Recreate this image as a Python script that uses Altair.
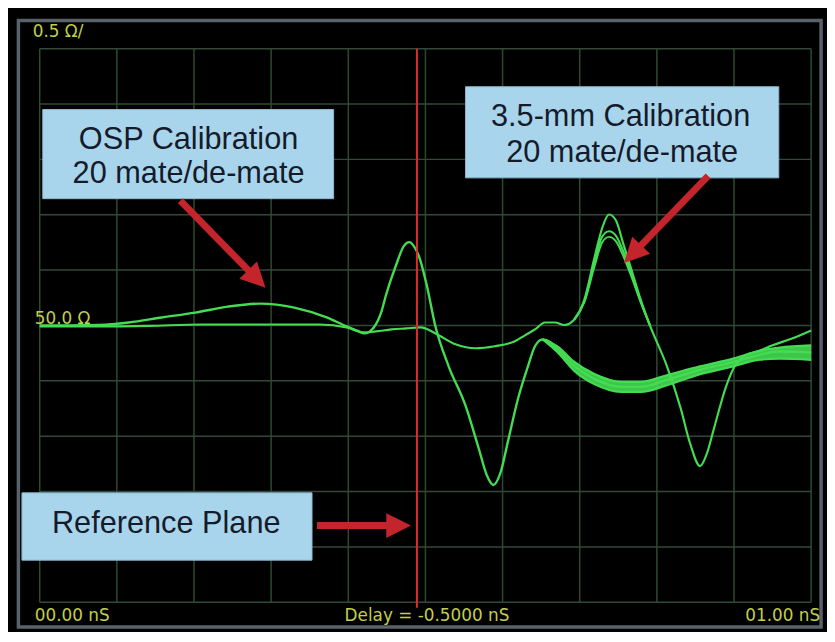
import altair as alt
import pandas as pd

# ---------------- data (time in ns, impedance in ohm) ----------------
# OSP calibration trace (broad bump, ringing after the reference plane)
osp_t = [0.000, 0.0385, 0.077, 0.1155, 0.158, 0.2015, 0.244, 0.286, 0.330, 0.372,
         0.398, 0.411, 0.421, 0.433, 0.443, 0.449, 0.462, 0.472, 0.479, 0.485,
         0.492, 0.501, 0.513, 0.530, 0.552, 0.569, 0.580, 0.588, 0.597, 0.607,
         0.620, 0.633, 0.642, 0.652, 0.662, 0.671, 0.693, 0.719, 0.754, 0.779,
         0.813, 0.856, 0.899, 0.933, 0.959, 1.000]
osp_z = [50.000, 50.000, 50.004, 50.027, 50.072, 50.116, 50.170, 50.197, 50.161, 50.072,
         49.991, 49.955, 49.928, 49.982, 50.125, 50.277, 50.546, 50.716, 50.752, 50.716,
         50.617, 50.385, 49.991, 49.633, 49.275, 48.891, 48.640, 48.559, 48.664, 48.953,
         49.338, 49.633, 49.812, 49.874, 49.848, 49.785, 49.633, 49.517, 49.445, 49.445,
         49.508, 49.600, 49.669, 49.735, 49.765, 49.755]
# spread of the 20 OSP traces on the right-hand side
osp_band_t = [0.652, 0.671, 0.693, 0.719, 0.754, 0.779, 0.813, 0.856, 0.899, 0.933, 0.959, 1.000]
osp_band_hi = [49.874, 49.81, 49.67, 49.56, 49.49, 49.49, 49.55, 49.63, 49.70, 49.77, 49.80, 49.82]
osp_band_lo = [49.874, 49.76, 49.59, 49.47, 49.40, 49.40, 49.46, 49.56, 49.63, 49.69, 49.70, 49.69]

# 3.5-mm calibration trace
mm_t = [0.000, 0.077, 0.141, 0.209, 0.282, 0.363, 0.398, 0.420, 0.436, 0.456,
        0.475, 0.494, 0.513, 0.539, 0.565, 0.590, 0.616, 0.629, 0.642, 0.655,
        0.668, 0.680, 0.693, 0.706, 0.719, 0.729, 0.738, 0.747, 0.757, 0.766,
        0.779, 0.791, 0.813, 0.831, 0.843, 0.856, 0.865, 0.873, 0.890, 0.901,
        0.915, 0.931, 0.950, 0.976, 1.000]
mm_z = [49.991, 49.991, 49.996, 50.009, 50.009, 50.009, 49.982, 49.937, 49.946, 49.964,
        49.973, 49.982, 49.928, 49.830, 49.794, 49.812, 49.857, 49.911, 49.964, 50.027,
        50.027, 50.004, 50.054, 50.233, 50.608, 50.877, 51.002, 50.948, 50.725, 50.528,
        50.233, 50.000, 49.633, 49.249, 48.936, 48.730, 48.846, 49.043, 49.454, 49.633,
        49.732, 49.767, 49.821, 49.884, 49.955]
# spread of the 20 3.5-mm traces at the peak
mm_peak_t = [0.693, 0.706, 0.719, 0.729, 0.738, 0.747, 0.757, 0.766, 0.779, 0.791]
mm_peak_z2 = [50.054, 50.22, 50.57, 50.80, 50.85, 50.81, 50.66, 50.49, 50.22, 50.00]
mm_peak_z3 = [50.054, 50.21, 50.53, 50.75, 50.80, 50.76, 50.62, 50.46, 50.21, 50.00]

ref_plane_t = 0.489
time_grid = [0.0, 0.1, 0.2, 0.3, 0.4, 0.5, 0.6, 0.7, 0.8, 0.9, 1.0]
ohm_grid = [47.5, 48.0, 48.5, 49.0, 49.5, 50.0, 50.5, 51.0, 51.5, 52.0, 52.5]

# instrument labels
scale_label = "0.5 Ω/"
ref_label = "50.0 Ω"
start_label = "00.00 nS"
delay_label = "Delay = -0.5000 nS"
stop_label = "01.00 nS"

# callouts
box_names = ["osp", "mm", "ref"]
box_t1 = [0.004, 0.552, -0.023]
box_t2 = [0.381, 0.958, 0.353]
box_z1 = [51.145, 51.333, 47.880]
box_z2 = [51.950, 52.156, 48.488]
callout_lines = ["OSP Calibration", "20 mate/de-mate", "3.5-mm Calibration",
                 "20 mate/de-mate", "Reference Plane"]
callout_t = [0.193, 0.193, 0.753, 0.755, 0.164]
callout_z = [51.673, 51.369, 51.878, 51.556, 48.205]
arrow_t0 = [0.1823, 0.8665, 0.3594]
arrow_z0 = [51.127, 51.351, 48.193]
arrow_t1 = [0.2792, 0.7707, 0.4621]
arrow_z1 = [50.436, 50.660, 48.193]
arrow_angle = [135.6, 224.0, 90.0]

# ---------------- build ----------------
W, H = 779, 559
GREEN = "#44dc52"
xs = alt.Scale(domain=[0, 1], nice=False, zero=False)
ys = alt.Scale(domain=[47.5, 52.5], nice=False, zero=False)

rows = []
for name, ts, zs in [("osp", osp_t, osp_z), ("osp_hi", osp_band_t, osp_band_hi),
                     ("osp_lo", osp_band_t, osp_band_lo), ("mm", mm_t, mm_z),
                     ("mm_2", mm_peak_t, mm_peak_z2), ("mm_3", mm_peak_t, mm_peak_z3)]:
    for t, z in zip(ts, zs):
        rows.append({"trace": name, "t": t, "z": z})
traces = pd.DataFrame(rows)
band = pd.DataFrame({"t": osp_band_t, "hi": osp_band_hi, "lo": osp_band_lo})

vgrid = pd.DataFrame({"t": time_grid, "z0": 47.5, "z1": 52.5})
hgrid = pd.DataFrame({"z": ohm_grid, "t0": 0.0, "t1": 1.0})

frame = alt.Chart(pd.DataFrame({"a": [0]})).mark_rect(
    fillOpacity=0, stroke="#59626b", strokeWidth=3.5
).encode(x=alt.value(-21.5), x2=alt.value(789), y=alt.value(-28.5), y2=alt.value(584))

vg = alt.Chart(vgrid).mark_rule(color="#2c4a2f", strokeWidth=1.5).encode(
    x=alt.X("t:Q", scale=xs, axis=None), y=alt.Y("z0:Q", scale=ys, axis=None), y2="z1:Q")
hg = alt.Chart(hgrid).mark_rule(color="#34483a", strokeWidth=1.5).encode(
    x=alt.X("t0:Q", scale=xs, axis=None), x2="t1:Q", y=alt.Y("z:Q", scale=ys, axis=None))

band_area = alt.Chart(band).mark_area(color=GREEN, opacity=0.9, interpolate="monotone").encode(
    x=alt.X("t:Q", scale=xs, axis=None), y=alt.Y("lo:Q", scale=ys, axis=None), y2="hi:Q")

lines = alt.Chart(traces).mark_line(color=GREEN, strokeJoin="round", interpolate="monotone").encode(
    x=alt.X("t:Q", scale=xs, axis=None),
    y=alt.Y("z:Q", scale=ys, axis=None),
    detail="trace:N",
    strokeWidth=alt.StrokeWidth("trace:N", legend=None, scale=alt.Scale(
        domain=["osp", "osp_hi", "osp_lo", "mm", "mm_2", "mm_3"],
        range=[2.4, 2.0, 2.0, 2.0, 1.6, 1.6])),
)

refline = alt.Chart(pd.DataFrame({"t": [ref_plane_t], "z0": [47.45], "z1": [52.5]})).mark_rule(
    color="#e02a2a", strokeWidth=2).encode(
    x=alt.X("t:Q", scale=xs, axis=None), y=alt.Y("z0:Q", scale=ys, axis=None), y2="z1:Q")

boxes = alt.Chart(pd.DataFrame({"name": box_names, "t1": box_t1, "t2": box_t2,
                                "z1": box_z1, "z2": box_z2})).mark_rect(
    fill="#a9d5ec", stroke="#8db8cf", strokeWidth=1).encode(
    x=alt.X("t1:Q", scale=xs, axis=None), x2="t2:Q",
    y=alt.Y("z1:Q", scale=ys, axis=None), y2="z2:Q")

callouts = alt.Chart(pd.DataFrame({"text": callout_lines, "t": callout_t, "z": callout_z})).mark_text(
    font="Liberation Sans", fontSize=31, color="#151b2b", align="center", baseline="middle").encode(
    x=alt.X("t:Q", scale=xs, axis=None), y=alt.Y("z:Q", scale=ys, axis=None), text="text:N")

arrows_df = pd.DataFrame({"t0": arrow_t0, "z0": arrow_z0, "t1": arrow_t1, "z1": arrow_z1,
                          "ang": arrow_angle})
ARROW = "#c4242b"
shafts = alt.Chart(arrows_df).mark_rule(color=ARROW, strokeWidth=7, strokeCap="butt").encode(
    x=alt.X("t0:Q", scale=xs, axis=None), y=alt.Y("z0:Q", scale=ys, axis=None),
    x2="t1:Q", y2="z1:Q")
heads = alt.Chart(arrows_df).mark_point(
    shape="M0,-1.2L-1,0.8L1,0.8Z", filled=True, size=625, color=ARROW, opacity=1, strokeWidth=0
).encode(x=alt.X("t1:Q", scale=xs, axis=None), y=alt.Y("z1:Q", scale=ys, axis=None),
         angle=alt.Angle("ang:Q", scale=None))

LBL = dict(font="DejaVu Sans", fontSize=17, color="#c2ce4c", baseline="middle")
lab_left = alt.Chart(pd.DataFrame({"text": [scale_label, ref_label, start_label],
                                   "t": [-0.009, -0.0064, -0.0064],
                                   "z": [52.652, 50.054, 47.379]})).mark_text(align="left", **LBL).encode(
    x=alt.X("t:Q", scale=xs, axis=None), y=alt.Y("z:Q", scale=ys, axis=None), text="text:N")
lab_center = alt.Chart(pd.DataFrame({"text": [delay_label], "t": [0.502], "z": [47.379]})).mark_text(
    align="center", **LBL).encode(
    x=alt.X("t:Q", scale=xs, axis=None), y=alt.Y("z:Q", scale=ys, axis=None), text="text:N")
lab_right = alt.Chart(pd.DataFrame({"text": [stop_label], "t": [1.0116], "z": [47.379]})).mark_text(
    align="right", **LBL).encode(
    x=alt.X("t:Q", scale=xs, axis=None), y=alt.Y("z:Q", scale=ys, axis=None), text="text:N")

chart = alt.layer(
    frame, vg, hg, band_area, lines, refline, boxes, callouts, shafts, heads,
    lab_left, lab_center, lab_right
).properties(
    width=W, height=H,
    autosize=alt.AutoSizeParams(type="none"),
    padding={"left": 32, "top": 38, "right": 16, "bottom": 27},
    background="#000000",
).configure_view(strokeWidth=0)

chart.save("out.html", embed_options={"renderer": "svg", "actions": False})
